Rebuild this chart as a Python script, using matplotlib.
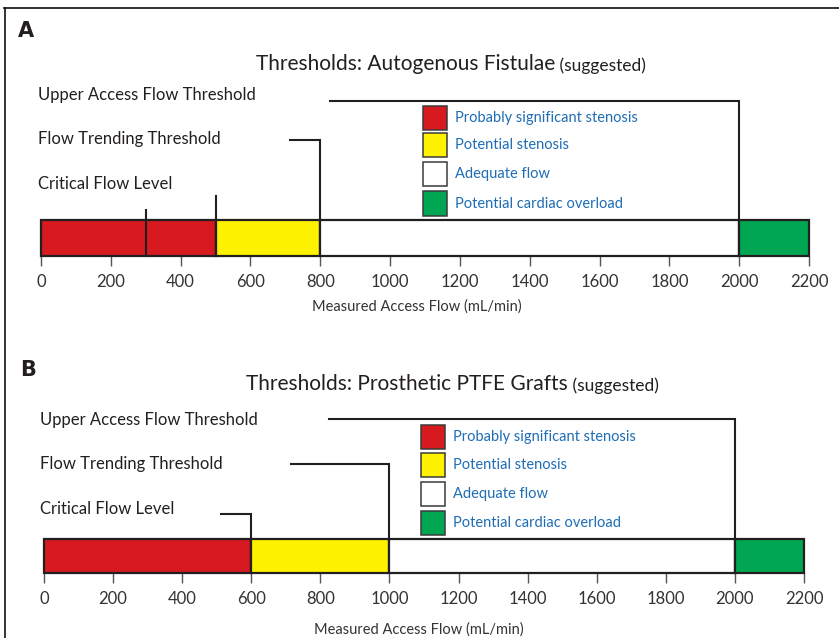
import matplotlib
matplotlib.use("Agg")
import matplotlib.pyplot as plt
from matplotlib.patches import Rectangle
from matplotlib.lines import Line2D

plt.rcParams['font.family'] = ['Lato', 'DejaVu Sans']

# ---- data ----
categories = ["Probably significant stenosis", "Potential stenosis",
              "Adequate flow", "Potential cardiac overload"]
cat_colors = ["#d71920", "#fff200", "#ffffff", "#00a651"]
fistula_edges = [0, 500, 800, 2000, 2200]
graft_edges = [0, 600, 1000, 2000, 2200]
fistula_critical = [300, 500]
fistula_trending = 800
fistula_upper = 2000
graft_critical = [600]
graft_trending = 1000
graft_upper = 2000
ticks = [0, 200, 400, 600, 800, 1000, 1200, 1400, 1600, 1800, 2000, 2200]
threshold_labels = ["Upper Access Flow Threshold", "Flow Trending Threshold", "Critical Flow Level"]
panel_titles = ["Thresholds: Autogenous Fistulae", "Thresholds: Prosthetic PTFE Grafts"]
xlabel = "Measured Access Flow (mL/min)"

W, H = 839, 638
fig = plt.figure(figsize=(W / 100, H / 100), dpi=100)

EDGE = "#231f20"
TXT = "#231f20"
BLUE = "#1f6db4"


def make_axes(x0, x1, ybar_bottom, ytop, unit):
    left = x0 / W
    width = (x1 - x0) / W
    bottom = (H - ybar_bottom) / H
    height = (ybar_bottom - ytop) / H
    ax = fig.add_axes([left, bottom, width, height])
    ax.set_xlim(0, 2200)
    ax.set_ylim(0, (ybar_bottom - ytop) / unit)
    return ax


def draw_panel(ax, edges, crit, trend, upper, layout):
    # bar segments
    for i in range(len(edges) - 1):
        ax.add_patch(Rectangle((edges[i], 0), edges[i + 1] - edges[i], 1,
                               facecolor=cat_colors[i], edgecolor=EDGE,
                               lw=1.6, zorder=3, clip_on=False))
    # threshold lines
    ax.plot([layout['upper_x0'], upper, upper], [layout['upper_y'], layout['upper_y'], 1],
            color=EDGE, lw=1.5, clip_on=False, zorder=4, solid_joinstyle='miter')
    ax.plot([layout['trend_x0'], trend, trend], [layout['trend_y'], layout['trend_y'], 1],
            color=EDGE, lw=1.5, clip_on=False, zorder=4, solid_joinstyle='miter')
    for c, cy, cx0 in zip(crit, layout['crit_y'], layout['crit_x0']):
        if cx0 is None:
            ax.plot([c, c], [cy, 0], color=EDGE, lw=1.5, clip_on=False, zorder=4)
        else:
            ax.plot([cx0, c, c], [cy, cy, 1], color=EDGE, lw=1.5, clip_on=False,
                    zorder=4, solid_joinstyle='miter')
    # threshold labels
    for lab, ly in zip(threshold_labels, layout['label_y']):
        ax.text(layout['label_x'], ly, lab, fontsize=12, color=TXT,
                ha='left', va='center')
    # legend
    for i, cat in enumerate(categories):
        y0, y1 = layout['leg_y'][i]
        ax.add_patch(Rectangle((layout['leg_x'][0], y0), layout['leg_x'][1] - layout['leg_x'][0],
                               y1 - y0, facecolor=cat_colors[i], edgecolor="#3a3a3a",
                               lw=1.1, zorder=3, clip_on=False))
        ax.text(layout['leg_tx'], (y0 + y1) / 2, cat, fontsize=10.5, color=BLUE,
                ha='left', va='center')
    # axes styling
    for s in ['top', 'right', 'left', 'bottom']:
        ax.spines[s].set_visible(False)
    ax.set_yticks([])
    ax.set_xticks(ticks)
    ax.set_xticklabels([str(t) for t in ticks])
    ax.tick_params(axis='x', direction='out', length=7, width=1.0, color="#555555",
                   labelsize=12, labelcolor="#333333", pad=6)
    ax.set_xlabel(xlabel, fontsize=10.5, color="#333333")
    ax.patch.set_alpha(0)


def title(ax, x, y, text):
    t = ax.text(x, y, text, fontsize=15, color=TXT, ha='left', va='baseline')
    ax.annotate(" (suggested)", xy=(1, 0), xycoords=t, fontsize=12.5, color=TXT,
                ha='left', va='bottom')


# ---- Panel A ----
unitA = 36.0
axA = make_axes(41, 809, 256, 40, unitA)
pxA = lambda px: (px - 41) / 768 * 2200
pyA = lambda py: (256 - py) / unitA
layoutA = dict(
    upper_x0=pxA(330), upper_y=pyA(101),
    trend_x0=pxA(290), trend_y=pyA(140),
    crit_y=[pyA(210), pyA(196)], crit_x0=[None, None],
    label_x=pxA(38), label_y=[pyA(95), pyA(139), pyA(184)],
    leg_x=(pxA(423), pxA(447)), leg_tx=pxA(455),
    leg_y=[(pyA(130), pyA(106)), (pyA(157), pyA(133)), (pyA(186), pyA(162)), (pyA(216), pyA(191))],
)
draw_panel(axA, fistula_edges, fistula_critical, fistula_trending, fistula_upper, layoutA)
title(axA, pxA(256), pyA(70), panel_titles[0])

# ---- Panel B ----
unitB = 34.0
axB = make_axes(44, 804, 573, 355, unitB)
pxB = lambda px: (px - 44) / 760 * 2200
pyB = lambda py: (573 - py) / unitB
layoutB = dict(
    upper_x0=pxB(329), upper_y=pyB(419),
    trend_x0=pxB(291), trend_y=pyB(464),
    crit_y=[pyB(514)], crit_x0=[pxB(221)],
    label_x=pxB(40), label_y=[pyB(420), pyB(464), pyB(509)],
    leg_x=(pxB(421), pxB(445)), leg_tx=pxB(453),
    leg_y=[(pyB(449), pyB(425)), (pyB(477), pyB(453)), (pyB(506), pyB(482)), (pyB(535), pyB(511))],
)
draw_panel(axB, graft_edges, graft_critical, graft_trending, graft_upper, layoutB)
title(axB, pxB(246), pyB(390), panel_titles[1])

# x-label positions as in reference
axA.xaxis.set_label_coords((417 - 41) / 768, (256 - 307) / 216, transform=axA.transAxes)
axA.xaxis.label.set_va('center')
axB.xaxis.set_label_coords((419 - 44) / 760, (573 - 630) / 218, transform=axB.transAxes)
axB.xaxis.label.set_va('center')

# panel letters
fig.text(18 / W, 1 - 31 / H, "A", fontsize=15, fontweight='bold', color=TXT, va='center', ha='left',
         family=['DejaVu Sans'])
fig.text(20 / W, 1 - 370 / H, "B", fontsize=15, fontweight='bold', color=TXT, va='center', ha='left',
         family=['DejaVu Sans'])

# frame (left and top edges)
fig.add_artist(Line2D([4.5 / W, 4.5 / W], [0, 1 - 8 / H], transform=fig.transFigure,
                      color="#111111", lw=1.2))
fig.add_artist(Line2D([4 / W, 1], [1 - 8 / H, 1 - 8 / H], transform=fig.transFigure,
                      color="#111111", lw=1.2))

fig.savefig("out.png", dpi=100)
